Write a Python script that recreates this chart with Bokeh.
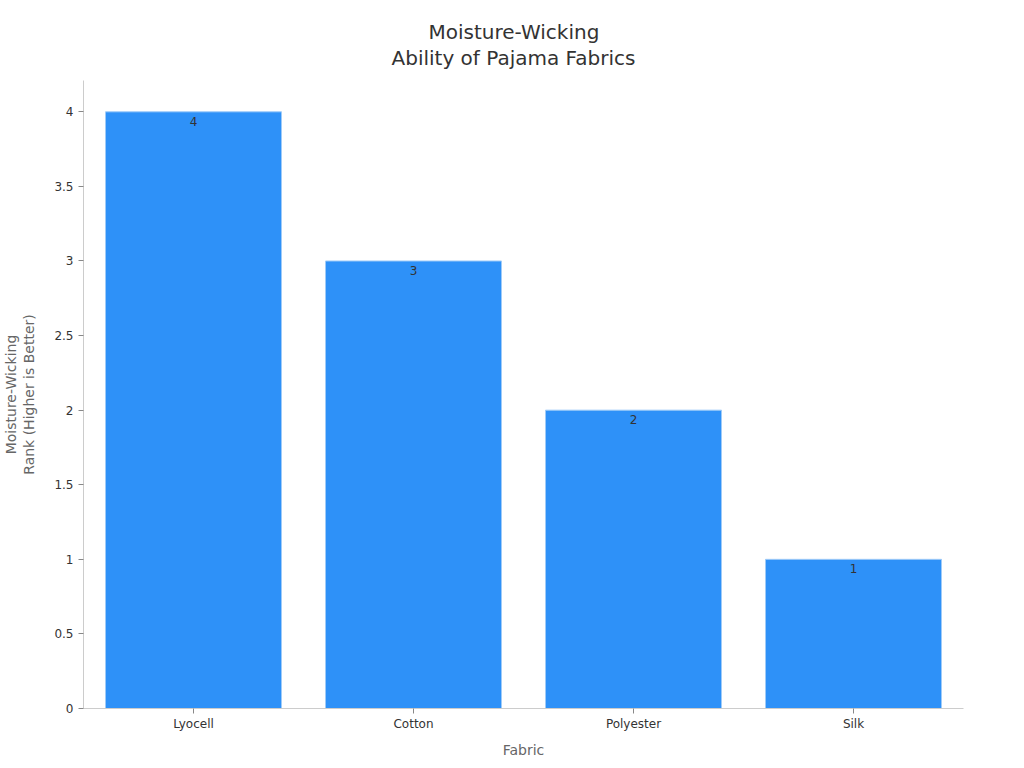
from bokeh.plotting import figure
from bokeh.models import ColumnDataSource, FixedTicker, Title
from bokeh.embed import file_html
from bokeh.resources import INLINE
from bokeh.core.properties import value

fabrics = ["Lyocell", "Cotton", "Polyester", "Silk"]
ranks = [4, 3, 2, 1]
labels = ["4", "3", "2", "1"]
y_ticks = [0, 0.5, 1, 1.5, 2, 2.5, 3, 3.5, 4]
title_lines = ["Moisture-Wicking", "Ability of Pajama Fabrics"]
ylabel_lines = ["Moisture-Wicking", "Rank (Higher is Better)"]

FONT = "DejaVu Sans"

src = ColumnDataSource(dict(fabric=fabrics, rank=ranks, label=labels))

p = figure(x_range=fabrics, y_range=(0, 4.21), width=1008, height=760,
           output_backend="svg", toolbar_location=None,
           title=title_lines[0],
           min_border_left=82, min_border_right=45, min_border_top=80,
           min_border_bottom=52)
p.x_range.range_padding = 0

p.vbar(x="fabric", top="rank", width=0.8, source=src,
       fill_color="#2E91F8", line_color="#9FCBF8", line_width=1)
p.text(x="fabric", y="rank", text="label", source=src,
       text_align="center", text_baseline="top", y_offset=5,
       text_font=value(FONT), text_font_size="12px", text_color="#333333")

# titles are centred on the whole page, not on the plot frame
p.title.align = "left"
p.title.offset = 345
p.title.text_font = FONT
p.title.text_font_size = "20px"
p.title.text_font_style = "normal"
p.title.text_color = "#333333"
p.title.standoff = 0

top_spacer = Title(text=" ", text_font_size="1px", standoff=8)
p.add_layout(top_spacer, "above")
t2 = Title(text=title_lines[1], align="left", offset=308, text_font=FONT,
           text_font_size="20px", text_font_style="normal",
           text_color="#333333", standoff=0)
p.add_layout(t2, "above")

p.xgrid.grid_line_color = None
p.ygrid.grid_line_color = None
p.outline_line_color = None
p.background_fill_color = "white"

for ax in (p.xaxis[0], p.yaxis[0]):
    ax.axis_line_color = "#cccccc"
    ax.major_tick_line_color = "#888888"
    ax.minor_tick_line_color = None
    ax.major_tick_in = 0
    ax.major_tick_out = 5
    ax.major_label_text_font = FONT
    ax.major_label_text_font_size = "12px"
    ax.major_label_text_color = "#333333"
    ax.axis_label_text_font = FONT
    ax.axis_label_text_font_size = "14px"
    ax.axis_label_text_font_style = "normal"
    ax.axis_label_text_color = "#666666"

p.yaxis[0].ticker = FixedTicker(ticks=y_ticks)
p.xaxis[0].axis_label = "Fabric"
p.xaxis[0].axis_label_standoff = 8
p.xaxis[0].major_label_standoff = 3

left_spacer = Title(text=" ", text_font_size="1px", standoff=12)
p.add_layout(left_spacer, "left")
yl2 = Title(text=ylabel_lines[1], align="center", text_font=FONT,
            text_font_size="14px", text_font_style="normal",
            text_color="#666666", standoff=0)
p.add_layout(yl2, "left")
yl1 = Title(text=ylabel_lines[0], align="center", text_font=FONT,
            text_font_size="14px", text_font_style="normal",
            text_color="#666666", standoff=0)
p.add_layout(yl1, "left")

open("out.html", "w").write(file_html(p, INLINE))
